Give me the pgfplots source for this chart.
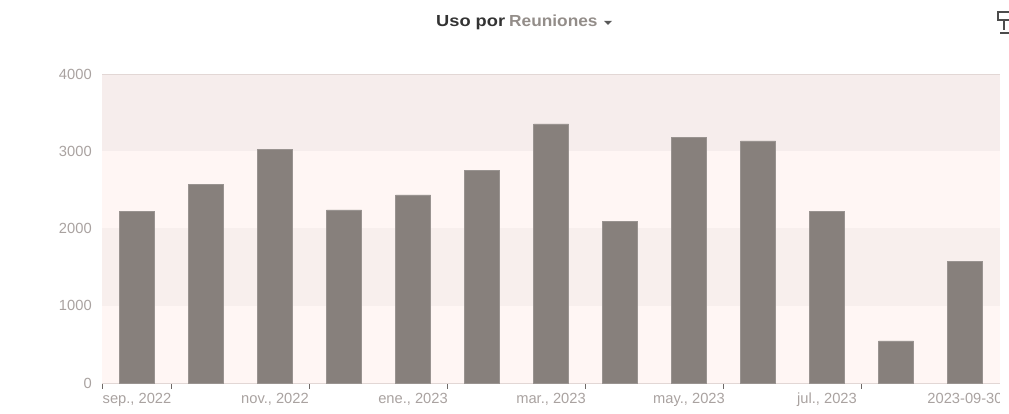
\documentclass[border=0pt]{standalone}
\usepackage{pgfplots}
\pgfplotsset{compat=1.18}
\usepackage{fontspec}
\setmainfont{Liberation Sans}
\newfontfamily\titlef[FakeStretch=1.08]{Liberation Sans}
\newfontfamily\titleg[FakeStretch=1.14]{Liberation Sans}
\definecolor{bandA}{HTML}{F6EDEC}
\definecolor{bandB}{HTML}{FFF6F4}
\definecolor{bandC}{HTML}{F8EFED}
\definecolor{barc}{HTML}{87807C}
\definecolor{txt}{HTML}{A9A2A0}
\definecolor{axl}{HTML}{E2D7D5}
\definecolor{tk}{HTML}{6F6A67}
\begin{document}
\begin{tikzpicture}[x=1pt,y=1pt]
\path[use as bounding box] (0,0) rectangle (1009,414);
\begin{axis}[
  at={(102.5pt,31pt)},anchor=south west,
  scale only axis,width=897pt,height=309pt,
  xmin=0,xmax=13,ymin=0,ymax=4000,
  ybar,bar width=35pt,
  axis lines=left,
  axis line style={draw=axl,line width=1.2pt,-},
  xtick={0.5,2.5,4.5,6.5,8.5,10.5,12.5},
  xticklabels={{sep., 2022},{nov., 2022},{ene., 2023},{mar., 2023},{may., 2023},{jul., 2023},{2023-09-30}},
  minor xtick={0,1,3,5,7,9,11},
  ytick={0,1000,2000,3000,4000},
  tick align=outside,
  major x tick style={draw=none},
  minor x tick style={draw=tk,line width=0.9pt},
  minor tick length=6pt,
  y tick style={draw=none},
  tick label style={text=txt,font=\fontsize{14.7}{16}\selectfont},
  xticklabel style={yshift=-2pt},
  yticklabel style={xshift=-3pt},
  /pgf/number format/assume math mode=true,
  /pgf/number format/set thousands separator={},
  axis on top=false,
  clip=false,
]
\fill[bandA] (axis cs:0,3000) rectangle (axis cs:13,4000);
\fill[bandB] (axis cs:0,2000) rectangle (axis cs:13,3000);
\fill[bandC] (axis cs:0,1000) rectangle (axis cs:13,2000);
\fill[bandB] (axis cs:0,0) rectangle (axis cs:13,1000);
\draw[axl,line width=0.8pt] (axis cs:0,4000) -- (axis cs:13,4000);
\addplot[fill=barc,draw=barc!85!white,line width=0.5pt,bar shift=0pt] coordinates {
(0.5,2226) (1.5,2576) (2.5,3029) (3.5,2240) (4.5,2434) (5.5,2757) (6.5,3353)
(7.5,2097) (8.5,3184) (9.5,3133) (10.5,2226) (11.5,544) (12.5,1579)};
\end{axis}
\fill[white] (999.5,0) rectangle (1009,32);
\node[anchor=base west,inner sep=0pt,font=\titleg\fontsize{16}{18}\selectfont\bfseries,text=black!80] at (436,387) {Uso por};
\node[anchor=base west,inner sep=0pt,font=\titlef\fontsize{16}{18}\selectfont\bfseries,text=barc!90!white] at (509,387) {Reuniones};
\fill[black!65] (604,393) -- (612,393) -- (608,389) -- cycle;
\draw[black!70,line width=1.3pt] (1009,402) -- (998,402) -- (998,394) -- (1009,394) (1004,394)--(1004,384) (1000,381)--(1009,381);
\end{tikzpicture}
\end{document}
